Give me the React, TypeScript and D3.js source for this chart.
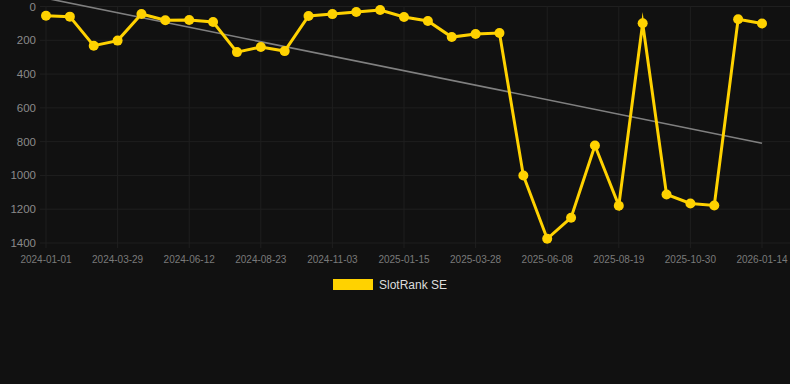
import React from "react";
import * as d3 from "d3";

const categories = [
  "2024-01-01", "2024-01-30", "2024-02-28",
  "2024-03-29", "2024-04-23", "2024-05-18",
  "2024-06-12", "2024-07-06", "2024-07-30",
  "2024-08-23", "2024-09-16", "2024-10-10",
  "2024-11-03", "2024-11-27", "2024-12-22",
  "2025-01-15", "2025-02-08", "2025-03-04",
  "2025-03-28", "2025-04-21", "2025-05-15",
  "2025-06-08", "2025-07-02", "2025-07-26",
  "2025-08-19", "2025-09-12", "2025-10-06",
  "2025-10-30", "2025-11-24", "2025-12-19",
  "2026-01-14",
];

const rankValues = [
  55, 60, 232, 202, 44, 81, 80, 92, 270, 240, 264,
  56, 45, 33, 21, 62, 86, 181, 163, 157,
  1000, 1375, 1250, 823, 1179, 99, 1113, 1166, 1178, 75, 101,
];

const yTicks = [0, 200, 400, 600, 800, 1000, 1200, 1400];
const seriesName = "SlotRank SE";

export default function App() {
  const W = 790, H = 384;
  const left = 46, right = 762, top = 6.5, bottom = 243;
  const x = d3.scalePoint<string>().domain(categories).range([left, right]);
  const y = d3.scaleLinear().domain([0, 1400]).range([top, bottom]);

  // linear regression trend
  const n = rankValues.length;
  const xs = d3.range(n);
  const mx = d3.mean(xs) as number;
  const my = d3.mean(rankValues) as number;
  let sxy = 0, sxx = 0;
  xs.forEach((i) => { sxy += (i - mx) * (rankValues[i] - my); sxx += (i - mx) * (i - mx); });
  const slope = sxy / sxx;
  const icpt = my - slope * mx;
  const trend = [icpt, icpt + slope * (n - 1)];

  const line = d3.line<number>()
    .x((_, i) => x(categories[i]) as number)
    .y((d) => y(d));

  const labelIdx = categories.map((_, i) => i).filter((i) => i % 3 === 0);
  const font = "'Liberation Sans', Arial, Helvetica, sans-serif";
  const gold = "#FFD200";

  return (
    <svg width={W} height={H} style={{ position: "absolute", left: 0, top: 0, background: "#111111" }}>
      <rect x={0} y={0} width={W} height={H} fill="#111111" />
      <g>
        {yTicks.map((t) => (
          <line key={"h" + t} x1={40} x2={790} y1={y(t)} y2={y(t)} stroke="#1f1f1f" strokeWidth={1} />
        ))}
        {labelIdx.map((i) => (
          <line key={"v" + i} x1={x(categories[i])} x2={x(categories[i])} y1={top} y2={bottom + 5} stroke="#1f1f1f" strokeWidth={1} />
        ))}
      </g>
      <g fontFamily={font} fontSize={11.5} fill="#8a8a8a">
        {yTicks.map((t) => (
          <text key={"yl" + t} x={36} y={y(t)} textAnchor="end" dominantBaseline="central">{t}</text>
        ))}
      </g>
      <g fontFamily={font} fontSize={10} fill="#7a7a7a">
        {labelIdx.map((i) => (
          <text key={"xl" + i} x={x(categories[i])} y={263} textAnchor="middle">{categories[i]}</text>
        ))}
      </g>
      <line
        x1={x(categories[0])} y1={y(trend[0])}
        x2={x(categories[n - 1])} y2={y(trend[1])}
        stroke="#808080" strokeWidth={1.6}
      />
      <path d={line(rankValues) || ""} fill="none" stroke={gold} strokeWidth={3} strokeLinejoin="miter" strokeMiterlimit={10} />
      {rankValues.map((v, i) => (
        <circle key={"p" + i} cx={x(categories[i])} cy={y(v)} r={5} fill={gold} />
      ))}
      <rect x={333} y={279} width={40} height={11} fill={gold} />
      <text x={379} y={289} fontFamily={font} fontSize={12} fill="#dddddd">{seriesName}</text>
    </svg>
  );
}
